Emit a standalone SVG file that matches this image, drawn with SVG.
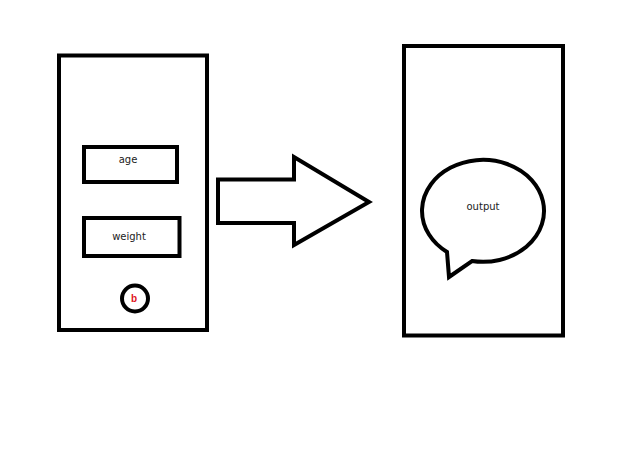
<svg xmlns="http://www.w3.org/2000/svg" width="622" height="460" viewBox="0 0 622 460">
  <style>
    .frame { fill: #fff; stroke: #000; stroke-width: 4; }
    .label { font-family: "DejaVu Sans", "Liberation Sans", sans-serif; font-size: 10px; fill: #222; text-anchor: middle; }
    .btn { font-family: "Liberation Sans", sans-serif; font-size: 10px; font-weight: bold; fill: #e0141e; text-anchor: middle; }
  </style>
  <rect width="622" height="460" fill="#fff"/>

  <!-- input screen -->
  <g id="input-screen">
    <rect class="frame" x="59" y="55.5" width="148" height="274.5"/>
  </g>
  <g id="age-field">
    <rect class="frame" x="84" y="147" width="93" height="35"/>
    <text class="label" x="128" y="163">age</text>
  </g>
  <g id="weight-field">
    <rect class="frame" x="84" y="218" width="95.5" height="38"/>
    <text class="label" x="129" y="240">weight</text>
  </g>
  <g id="submit-button">
    <circle class="frame" cx="135" cy="298.5" r="13" stroke-width="3.5"/>
    <text class="btn" x="134" y="302">b</text>
  </g>

  <!-- flow arrow -->
  <g id="connectors">
    <polygon class="frame" points="218,179.5 294,179.5 294,157 369,202 294,245 294,223 218,223"/>
  </g>

  <!-- output screen -->
  <g id="output-screen">
    <rect class="frame" x="404" y="46" width="159" height="289.5" stroke-width="5"/>
  </g>
  <g id="output-bubble">
    <path class="frame" d="M447,252 A61,51 0 1 1 472,261 L449,277 Z" stroke-linejoin="miter"/>
    <text class="label" x="483" y="210">output</text>
  </g>
</svg>
